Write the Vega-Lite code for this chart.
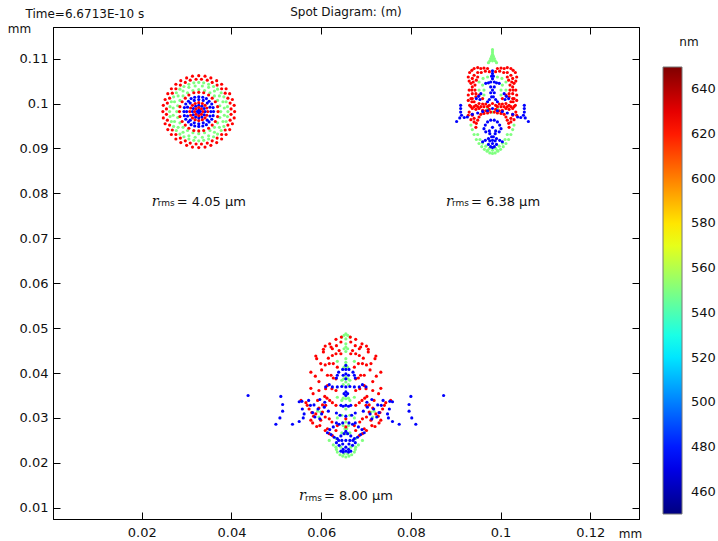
{"$schema":"https://vega.github.io/schema/vega-lite/v6.json","width":586,"height":492,"autosize":"none","padding":{"left":53,"top":27,"right":79,"bottom":22},"background":"white",
"config":{"font":"DejaVu Sans","view":{"stroke":"black","strokeWidth":1},"axis":{"grid":false,"labelFont":"DejaVu Sans","titleFont":"DejaVu Sans","labelFontSize":13,"titleFontSize":12,"titleFontWeight":"normal","labelColor":"#111","titleColor":"#111","domainColor":"black","tickColor":"black","tickSize":-7,"tickWidth":1}},
"title":{"text":"Spot Diagram: (m)","anchor":"middle","fontSize":12,"fontWeight":"normal","font":"DejaVu Sans","color":"#111","offset":-12},
"datasets":{"spots":[
{"x":0.0407,"y":0.0982,"w":625},{"x":0.0406,"y":0.0996,"w":625},{"x":0.0402,"y":0.1009,"w":625},{"x":0.0396,"y":0.1022,"w":625},{"x":0.0388,"y":0.1033,"w":625},{"x":0.0378,"y":0.1043,"w":625},{"x":0.0367,"y":0.1051,"w":625},{"x":0.0354,"y":0.1057,"w":625},{"x":0.0341,"y":0.1061,"w":625},{"x":0.0327,"y":0.1062,"w":625},{"x":0.0313,"y":0.1061,"w":625},{"x":0.03,"y":0.1057,"w":625},{"x":0.0287,"y":0.1051,"w":625},{"x":0.0276,"y":0.1043,"w":625},{"x":0.0266,"y":0.1033,"w":625},{"x":0.0258,"y":0.1022,"w":625},{"x":0.0252,"y":0.1009,"w":625},{"x":0.0248,"y":0.0996,"w":625},{"x":0.0247,"y":0.0982,"w":625},{"x":0.0248,"y":0.0968,"w":625},{"x":0.0252,"y":0.0955,"w":625},{"x":0.0258,"y":0.0942,"w":625},{"x":0.0266,"y":0.0931,"w":625},{"x":0.0276,"y":0.0921,"w":625},{"x":0.0287,"y":0.0913,"w":625},{"x":0.03,"y":0.0907,"w":625},{"x":0.0313,"y":0.0903,"w":625},{"x":0.0327,"y":0.0902,"w":625},{"x":0.0341,"y":0.0903,"w":625},{"x":0.0354,"y":0.0907,"w":625},{"x":0.0367,"y":0.0913,"w":625},{"x":0.0378,"y":0.0921,"w":625},{"x":0.0388,"y":0.0931,"w":625},{"x":0.0396,"y":0.0942,"w":625},{"x":0.0402,"y":0.0955,"w":625},{"x":0.0406,"y":0.0968,"w":625},
{"x":0.0399,"y":0.0988,"w":625},{"x":0.0397,"y":0.1001,"w":625},{"x":0.0392,"y":0.1012,"w":625},{"x":0.0386,"y":0.1023,"w":625},{"x":0.0378,"y":0.1033,"w":625},{"x":0.0368,"y":0.1041,"w":625},{"x":0.0357,"y":0.1047,"w":625},{"x":0.0346,"y":0.1052,"w":625},{"x":0.0333,"y":0.1054,"w":625},{"x":0.0255,"y":0.0988,"w":625},{"x":0.0257,"y":0.1001,"w":625},{"x":0.0262,"y":0.1012,"w":625},{"x":0.0268,"y":0.1023,"w":625},{"x":0.0276,"y":0.1033,"w":625},{"x":0.0286,"y":0.1041,"w":625},{"x":0.0297,"y":0.1047,"w":625},{"x":0.0308,"y":0.1052,"w":625},{"x":0.0321,"y":0.1054,"w":625},{"x":0.0255,"y":0.0976,"w":625},{"x":0.0257,"y":0.0963,"w":625},{"x":0.0262,"y":0.0952,"w":625},{"x":0.0268,"y":0.0941,"w":625},{"x":0.0276,"y":0.0931,"w":625},{"x":0.0286,"y":0.0923,"w":625},{"x":0.0297,"y":0.0917,"w":625},{"x":0.0308,"y":0.0912,"w":625},{"x":0.0321,"y":0.091,"w":625},{"x":0.0399,"y":0.0976,"w":625},{"x":0.0397,"y":0.0963,"w":625},{"x":0.0392,"y":0.0952,"w":625},{"x":0.0386,"y":0.0941,"w":625},{"x":0.0378,"y":0.0931,"w":625},{"x":0.0368,"y":0.0923,"w":625},{"x":0.0357,"y":0.0917,"w":625},{"x":0.0346,"y":0.0912,"w":625},{"x":0.0333,"y":0.091,"w":625},
{"x":0.0392,"y":0.0982,"w":550},{"x":0.0391,"y":0.0993,"w":550},{"x":0.0388,"y":0.1004,"w":550},{"x":0.0383,"y":0.1015,"w":550},{"x":0.0377,"y":0.1024,"w":550},{"x":0.0369,"y":0.1032,"w":550},{"x":0.036,"y":0.1038,"w":550},{"x":0.0349,"y":0.1043,"w":550},{"x":0.0338,"y":0.1046,"w":550},{"x":0.0327,"y":0.1047,"w":550},{"x":0.0316,"y":0.1046,"w":550},{"x":0.0305,"y":0.1043,"w":550},{"x":0.0294,"y":0.1038,"w":550},{"x":0.0285,"y":0.1032,"w":550},{"x":0.0277,"y":0.1024,"w":550},{"x":0.0271,"y":0.1015,"w":550},{"x":0.0266,"y":0.1004,"w":550},{"x":0.0263,"y":0.0993,"w":550},{"x":0.0262,"y":0.0982,"w":550},{"x":0.0263,"y":0.0971,"w":550},{"x":0.0266,"y":0.096,"w":550},{"x":0.0271,"y":0.0949,"w":550},{"x":0.0277,"y":0.094,"w":550},{"x":0.0285,"y":0.0932,"w":550},{"x":0.0294,"y":0.0926,"w":550},{"x":0.0305,"y":0.0921,"w":550},{"x":0.0316,"y":0.0918,"w":550},{"x":0.0327,"y":0.0917,"w":550},{"x":0.0338,"y":0.0918,"w":550},{"x":0.0349,"y":0.0921,"w":550},{"x":0.036,"y":0.0926,"w":550},{"x":0.0369,"y":0.0932,"w":550},{"x":0.0377,"y":0.094,"w":550},{"x":0.0383,"y":0.0949,"w":550},{"x":0.0388,"y":0.096,"w":550},{"x":0.0391,"y":0.0971,"w":550},
{"x":0.0384,"y":0.099,"w":550},{"x":0.0381,"y":0.1004,"w":550},{"x":0.0373,"y":0.1017,"w":550},{"x":0.0362,"y":0.1028,"w":550},{"x":0.0349,"y":0.1036,"w":550},{"x":0.0335,"y":0.1039,"w":550},{"x":0.027,"y":0.099,"w":550},{"x":0.0273,"y":0.1004,"w":550},{"x":0.0281,"y":0.1017,"w":550},{"x":0.0292,"y":0.1028,"w":550},{"x":0.0305,"y":0.1036,"w":550},{"x":0.0319,"y":0.1039,"w":550},{"x":0.027,"y":0.0974,"w":550},{"x":0.0273,"y":0.096,"w":550},{"x":0.0281,"y":0.0947,"w":550},{"x":0.0292,"y":0.0936,"w":550},{"x":0.0305,"y":0.0928,"w":550},{"x":0.0319,"y":0.0925,"w":550},{"x":0.0384,"y":0.0974,"w":550},{"x":0.0381,"y":0.096,"w":550},{"x":0.0373,"y":0.0947,"w":550},{"x":0.0362,"y":0.0936,"w":550},{"x":0.0349,"y":0.0928,"w":550},{"x":0.0335,"y":0.0925,"w":550},
{"x":0.0376,"y":0.0982,"w":550},{"x":0.0374,"y":0.0995,"w":550},{"x":0.0369,"y":0.1007,"w":550},{"x":0.0362,"y":0.1017,"w":550},{"x":0.0352,"y":0.1024,"w":550},{"x":0.034,"y":0.1029,"w":550},{"x":0.0327,"y":0.1031,"w":550},{"x":0.0314,"y":0.1029,"w":550},{"x":0.0302,"y":0.1024,"w":550},{"x":0.0292,"y":0.1017,"w":550},{"x":0.0285,"y":0.1007,"w":550},{"x":0.028,"y":0.0995,"w":550},{"x":0.0278,"y":0.0982,"w":550},{"x":0.028,"y":0.0969,"w":550},{"x":0.0285,"y":0.0957,"w":550},{"x":0.0292,"y":0.0947,"w":550},{"x":0.0302,"y":0.094,"w":550},{"x":0.0314,"y":0.0935,"w":550},{"x":0.0327,"y":0.0933,"w":550},{"x":0.034,"y":0.0935,"w":550},{"x":0.0352,"y":0.094,"w":550},{"x":0.0362,"y":0.0947,"w":550},{"x":0.0369,"y":0.0957,"w":550},{"x":0.0374,"y":0.0969,"w":550},
{"x":0.037,"y":0.0982,"w":625},{"x":0.0369,"y":0.0993,"w":625},{"x":0.0364,"y":0.1004,"w":625},{"x":0.0357,"y":0.1012,"w":625},{"x":0.0349,"y":0.1019,"w":625},{"x":0.0338,"y":0.1024,"w":625},{"x":0.0327,"y":0.1025,"w":625},{"x":0.0316,"y":0.1024,"w":625},{"x":0.0305,"y":0.1019,"w":625},{"x":0.0297,"y":0.1012,"w":625},{"x":0.029,"y":0.1004,"w":625},{"x":0.0285,"y":0.0993,"w":625},{"x":0.0284,"y":0.0982,"w":625},{"x":0.0285,"y":0.0971,"w":625},{"x":0.029,"y":0.096,"w":625},{"x":0.0297,"y":0.0952,"w":625},{"x":0.0305,"y":0.0945,"w":625},{"x":0.0316,"y":0.094,"w":625},{"x":0.0327,"y":0.0939,"w":625},{"x":0.0338,"y":0.094,"w":625},{"x":0.0349,"y":0.0945,"w":625},{"x":0.0357,"y":0.0952,"w":625},{"x":0.0364,"y":0.096,"w":625},{"x":0.0369,"y":0.0971,"w":625},
{"x":0.036,"y":0.0982,"w":475},{"x":0.0359,"y":0.0991,"w":475},{"x":0.0356,"y":0.0999,"w":475},{"x":0.035,"y":0.1005,"w":475},{"x":0.0344,"y":0.1011,"w":475},{"x":0.0336,"y":0.1014,"w":475},{"x":0.0327,"y":0.1015,"w":475},{"x":0.0318,"y":0.1014,"w":475},{"x":0.031,"y":0.1011,"w":475},{"x":0.0304,"y":0.1005,"w":475},{"x":0.0298,"y":0.0999,"w":475},{"x":0.0295,"y":0.0991,"w":475},{"x":0.0294,"y":0.0982,"w":475},{"x":0.0295,"y":0.0973,"w":475},{"x":0.0298,"y":0.0965,"w":475},{"x":0.0304,"y":0.0959,"w":475},{"x":0.031,"y":0.0953,"w":475},{"x":0.0318,"y":0.095,"w":475},{"x":0.0327,"y":0.0949,"w":475},{"x":0.0336,"y":0.095,"w":475},{"x":0.0344,"y":0.0953,"w":475},{"x":0.035,"y":0.0959,"w":475},{"x":0.0356,"y":0.0965,"w":475},{"x":0.0359,"y":0.0973,"w":475},
{"x":0.0354,"y":0.0982,"w":475},{"x":0.0352,"y":0.0992,"w":475},{"x":0.0346,"y":0.1001,"w":475},{"x":0.0337,"y":0.1007,"w":475},{"x":0.0327,"y":0.1009,"w":475},{"x":0.0317,"y":0.1007,"w":475},{"x":0.0308,"y":0.1001,"w":475},{"x":0.0302,"y":0.0992,"w":475},{"x":0.03,"y":0.0982,"w":475},{"x":0.0302,"y":0.0972,"w":475},{"x":0.0308,"y":0.0963,"w":475},{"x":0.0317,"y":0.0957,"w":475},{"x":0.0327,"y":0.0955,"w":475},{"x":0.0337,"y":0.0957,"w":475},{"x":0.0346,"y":0.0963,"w":475},{"x":0.0352,"y":0.0972,"w":475},
{"x":0.0347,"y":0.0982,"w":625},{"x":0.0345,"y":0.099,"w":625},{"x":0.0341,"y":0.0996,"w":625},{"x":0.0335,"y":0.1,"w":625},{"x":0.0327,"y":0.1002,"w":625},{"x":0.0319,"y":0.1,"w":625},{"x":0.0313,"y":0.0996,"w":625},{"x":0.0309,"y":0.099,"w":625},{"x":0.0307,"y":0.0982,"w":625},{"x":0.0309,"y":0.0974,"w":625},{"x":0.0313,"y":0.0968,"w":625},{"x":0.0319,"y":0.0964,"w":625},{"x":0.0327,"y":0.0962,"w":625},{"x":0.0335,"y":0.0964,"w":625},{"x":0.0341,"y":0.0968,"w":625},{"x":0.0345,"y":0.0974,"w":625},
{"x":0.0341,"y":0.0982,"w":475},{"x":0.0339,"y":0.0989,"w":475},{"x":0.0334,"y":0.0994,"w":475},{"x":0.0327,"y":0.0996,"w":475},{"x":0.032,"y":0.0994,"w":475},{"x":0.0315,"y":0.0989,"w":475},{"x":0.0313,"y":0.0982,"w":475},{"x":0.0315,"y":0.0975,"w":475},{"x":0.032,"y":0.097,"w":475},{"x":0.0327,"y":0.0968,"w":475},{"x":0.0334,"y":0.097,"w":475},{"x":0.0339,"y":0.0975,"w":475},
{"x":0.0336,"y":0.0982,"w":625},{"x":0.0333,"y":0.0988,"w":625},{"x":0.0327,"y":0.0991,"w":625},{"x":0.0321,"y":0.0988,"w":625},{"x":0.0318,"y":0.0982,"w":625},{"x":0.0321,"y":0.0976,"w":625},{"x":0.0327,"y":0.0973,"w":625},{"x":0.0333,"y":0.0976,"w":625},
{"x":0.033,"y":0.0982,"w":475},{"x":0.0327,"y":0.0985,"w":475},{"x":0.0324,"y":0.0982,"w":475},{"x":0.0327,"y":0.0979,"w":475},

{"x":0.0982,"y":0.112,"w":550},{"x":0.0982,"y":0.1115,"w":550},{"x":0.0982,"y":0.111,"w":550},{"x":0.098,"y":0.1105,"w":550},{"x":0.0984,"y":0.1105,"w":550},{"x":0.0978,"y":0.11,"w":550},{"x":0.0986,"y":0.11,"w":550},{"x":0.0976,"y":0.1095,"w":550},{"x":0.0988,"y":0.1095,"w":550},{"x":0.0973,"y":0.1091,"w":550},{"x":0.0991,"y":0.1091,"w":550},{"x":0.0982,"y":0.1105,"w":550},{"x":0.0982,"y":0.11,"w":550},{"x":0.0982,"y":0.1095,"w":550},
{"x":0.0982,"y":0.0889,"w":550},{"x":0.0976,"y":0.089,"w":550},{"x":0.0988,"y":0.089,"w":550},{"x":0.097,"y":0.0894,"w":550},{"x":0.0994,"y":0.0894,"w":550},{"x":0.0964,"y":0.0898,"w":550},{"x":0.1,"y":0.0898,"w":550},{"x":0.0958,"y":0.0904,"w":550},{"x":0.1006,"y":0.0904,"w":550},{"x":0.0952,"y":0.0911,"w":550},{"x":0.1012,"y":0.0911,"w":550},{"x":0.0946,"y":0.092,"w":550},{"x":0.1018,"y":0.092,"w":550},{"x":0.0941,"y":0.0931,"w":550},{"x":0.1023,"y":0.0931,"w":550},{"x":0.0937,"y":0.0942,"w":550},{"x":0.1027,"y":0.0942,"w":550},{"x":0.0934,"y":0.0952,"w":550},{"x":0.103,"y":0.0952,"w":550},
{"x":0.0982,"y":0.0896,"w":550},{"x":0.0975,"y":0.09,"w":550},{"x":0.0989,"y":0.09,"w":550},{"x":0.0967,"y":0.0905,"w":550},{"x":0.0997,"y":0.0905,"w":550},{"x":0.096,"y":0.0912,"w":550},{"x":0.1004,"y":0.0912,"w":550},{"x":0.0954,"y":0.092,"w":550},{"x":0.101,"y":0.092,"w":550},{"x":0.0949,"y":0.0931,"w":550},{"x":0.1015,"y":0.0931,"w":550},{"x":0.0971,"y":0.0896,"w":550},{"x":0.0993,"y":0.0896,"w":550},
{"x":0.096,"y":0.1041,"w":550},{"x":0.1004,"y":0.1041,"w":550},{"x":0.0952,"y":0.1048,"w":550},{"x":0.1012,"y":0.1048,"w":550},{"x":0.0963,"y":0.1019,"w":550},{"x":0.1001,"y":0.1019,"w":550},{"x":0.0971,"y":0.0989,"w":550},{"x":0.0993,"y":0.0989,"w":550},{"x":0.0982,"y":0.0981,"w":550},{"x":0.0971,"y":0.1059,"w":550},{"x":0.0993,"y":0.1059,"w":550},{"x":0.0961,"y":0.1056,"w":550},{"x":0.1003,"y":0.1056,"w":550},{"x":0.0963,"y":0.103,"w":550},{"x":0.1001,"y":0.103,"w":550},{"x":0.0952,"y":0.103,"w":550},{"x":0.1012,"y":0.103,"w":550},
{"x":0.0971,"y":0.1078,"w":625},{"x":0.0993,"y":0.1078,"w":625},{"x":0.0963,"y":0.1079,"w":625},{"x":0.1001,"y":0.1079,"w":625},{"x":0.0956,"y":0.1078,"w":625},{"x":0.1008,"y":0.1078,"w":625},{"x":0.0949,"y":0.108,"w":625},{"x":0.1015,"y":0.108,"w":625},{"x":0.0941,"y":0.1078,"w":625},{"x":0.1023,"y":0.1078,"w":625},{"x":0.0936,"y":0.1074,"w":625},{"x":0.1028,"y":0.1074,"w":625},{"x":0.0931,"y":0.1069,"w":625},{"x":0.1033,"y":0.1069,"w":625},{"x":0.0928,"y":0.1059,"w":625},{"x":0.1036,"y":0.1059,"w":625},{"x":0.093,"y":0.105,"w":625},{"x":0.1034,"y":0.105,"w":625},{"x":0.0934,"y":0.1045,"w":625},{"x":0.103,"y":0.1045,"w":625},{"x":0.0937,"y":0.1037,"w":625},{"x":0.1027,"y":0.1037,"w":625},{"x":0.0943,"y":0.103,"w":625},{"x":0.1021,"y":0.103,"w":625},
{"x":0.0975,"y":0.1071,"w":625},{"x":0.0989,"y":0.1071,"w":625},{"x":0.0966,"y":0.1072,"w":625},{"x":0.0998,"y":0.1072,"w":625},{"x":0.0957,"y":0.1069,"w":625},{"x":0.1007,"y":0.1069,"w":625},{"x":0.0949,"y":0.1069,"w":625},{"x":0.1015,"y":0.1069,"w":625},{"x":0.0941,"y":0.1063,"w":625},{"x":0.1023,"y":0.1063,"w":625},{"x":0.0937,"y":0.1056,"w":625},{"x":0.1027,"y":0.1056,"w":625},{"x":0.0939,"y":0.1048,"w":625},{"x":0.1025,"y":0.1048,"w":625},
{"x":0.093,"y":0.103,"w":625},{"x":0.1034,"y":0.103,"w":625},{"x":0.0928,"y":0.1019,"w":625},{"x":0.1036,"y":0.1019,"w":625},{"x":0.0928,"y":0.1007,"w":625},{"x":0.1036,"y":0.1007,"w":625},{"x":0.0931,"y":0.0996,"w":625},{"x":0.1033,"y":0.0996,"w":625},{"x":0.0937,"y":0.0989,"w":625},{"x":0.1027,"y":0.0989,"w":625},{"x":0.0945,"y":0.0996,"w":625},{"x":0.1019,"y":0.0996,"w":625},{"x":0.0952,"y":0.1,"w":625},{"x":0.1012,"y":0.1,"w":625},{"x":0.096,"y":0.0999,"w":625},{"x":0.1004,"y":0.0999,"w":625},{"x":0.0967,"y":0.0999,"w":625},{"x":0.0997,"y":0.0999,"w":625},{"x":0.0975,"y":0.0996,"w":625},{"x":0.0989,"y":0.0996,"w":625},{"x":0.0982,"y":0.1,"w":625},
{"x":0.0971,"y":0.0993,"w":625},{"x":0.0993,"y":0.0993,"w":625},{"x":0.0963,"y":0.0993,"w":625},{"x":0.1001,"y":0.0993,"w":625},{"x":0.0956,"y":0.0993,"w":625},{"x":0.1008,"y":0.0993,"w":625},{"x":0.0949,"y":0.0993,"w":625},{"x":0.1015,"y":0.0993,"w":625},{"x":0.0941,"y":0.0993,"w":625},{"x":0.1023,"y":0.0993,"w":625},{"x":0.0934,"y":0.0993,"w":625},{"x":0.103,"y":0.0993,"w":625},{"x":0.0936,"y":0.103,"w":625},{"x":0.1028,"y":0.103,"w":625},{"x":0.0936,"y":0.1004,"w":625},{"x":0.1028,"y":0.1004,"w":625},{"x":0.0943,"y":0.1041,"w":625},{"x":0.1021,"y":0.1041,"w":625},{"x":0.0946,"y":0.1052,"w":625},{"x":0.1018,"y":0.1052,"w":625},{"x":0.0949,"y":0.1059,"w":625},{"x":0.1015,"y":0.1059,"w":625},{"x":0.0934,"y":0.1011,"w":625},{"x":0.103,"y":0.1011,"w":625},{"x":0.0937,"y":0.1022,"w":625},{"x":0.1027,"y":0.1022,"w":625},{"x":0.0945,"y":0.1022,"w":625},{"x":0.1019,"y":0.1022,"w":625},{"x":0.0937,"y":0.0974,"w":625},{"x":0.1027,"y":0.0974,"w":625},{"x":0.0941,"y":0.0967,"w":625},{"x":0.1023,"y":0.0967,"w":625},
{"x":0.0975,"y":0.0987,"w":625},{"x":0.0989,"y":0.0987,"w":625},{"x":0.0967,"y":0.0984,"w":625},{"x":0.0997,"y":0.0984,"w":625},{"x":0.096,"y":0.0985,"w":625},{"x":0.1004,"y":0.0985,"w":625},{"x":0.0952,"y":0.0989,"w":625},{"x":0.1012,"y":0.0989,"w":625},{"x":0.0945,"y":0.0987,"w":625},{"x":0.1019,"y":0.0987,"w":625},{"x":0.093,"y":0.0981,"w":625},{"x":0.1034,"y":0.0981,"w":625},{"x":0.0928,"y":0.0974,"w":625},{"x":0.1036,"y":0.0974,"w":625},{"x":0.0934,"y":0.0964,"w":625},{"x":0.103,"y":0.0964,"w":625},{"x":0.0941,"y":0.0959,"w":625},{"x":0.1023,"y":0.0959,"w":625},{"x":0.0949,"y":0.0963,"w":625},{"x":0.1015,"y":0.0963,"w":625},{"x":0.0952,"y":0.097,"w":625},{"x":0.1012,"y":0.097,"w":625},{"x":0.0956,"y":0.0976,"w":625},{"x":0.1008,"y":0.0976,"w":625},{"x":0.0963,"y":0.0978,"w":625},{"x":0.1001,"y":0.0978,"w":625},{"x":0.0971,"y":0.0979,"w":625},{"x":0.0993,"y":0.0979,"w":625},{"x":0.0978,"y":0.0981,"w":625},{"x":0.0986,"y":0.0981,"w":625},
{"x":0.0945,"y":0.1015,"w":625},{"x":0.1019,"y":0.1015,"w":625},{"x":0.0952,"y":0.1019,"w":625},{"x":0.1012,"y":0.1019,"w":625},{"x":0.096,"y":0.1011,"w":625},{"x":0.1004,"y":0.1011,"w":625},{"x":0.0941,"y":0.1004,"w":625},{"x":0.1023,"y":0.1004,"w":625},{"x":0.0937,"y":0.1011,"w":625},{"x":0.1027,"y":0.1011,"w":625},{"x":0.0946,"y":0.0956,"w":625},{"x":0.1018,"y":0.0956,"w":625},{"x":0.0945,"y":0.0947,"w":625},{"x":0.1019,"y":0.0947,"w":625},{"x":0.0937,"y":0.0976,"w":625},{"x":0.1027,"y":0.0976,"w":625},
{"x":0.0982,"y":0.1073,"w":475},{"x":0.0982,"y":0.1067,"w":475},{"x":0.098,"y":0.1061,"w":475},{"x":0.0984,"y":0.1061,"w":475},{"x":0.0982,"y":0.1055,"w":475},{"x":0.0978,"y":0.1048,"w":475},{"x":0.0986,"y":0.1048,"w":475},{"x":0.0973,"y":0.1046,"w":475},{"x":0.0991,"y":0.1046,"w":475},{"x":0.0967,"y":0.1045,"w":475},{"x":0.0997,"y":0.1045,"w":475},{"x":0.0978,"y":0.1037,"w":475},{"x":0.0986,"y":0.1037,"w":475},{"x":0.0982,"y":0.103,"w":475},{"x":0.0978,"y":0.1024,"w":475},{"x":0.0986,"y":0.1024,"w":475},{"x":0.098,"y":0.1015,"w":475},{"x":0.0984,"y":0.1015,"w":475},{"x":0.0975,"y":0.1009,"w":475},{"x":0.0989,"y":0.1009,"w":475},{"x":0.0971,"y":0.1004,"w":475},{"x":0.0993,"y":0.1004,"w":475},{"x":0.0982,"y":0.0989,"w":475},
{"x":0.0956,"y":0.1022,"w":475},{"x":0.1008,"y":0.1022,"w":475},{"x":0.0951,"y":0.1016,"w":475},{"x":0.1013,"y":0.1016,"w":475},{"x":0.0946,"y":0.1011,"w":475},{"x":0.1018,"y":0.1011,"w":475},{"x":0.0954,"y":0.1009,"w":475},{"x":0.101,"y":0.1009,"w":475},
{"x":0.0911,"y":0.0996,"w":475},{"x":0.1053,"y":0.0996,"w":475},{"x":0.0911,"y":0.0989,"w":475},{"x":0.1053,"y":0.0989,"w":475},{"x":0.0911,"y":0.0981,"w":475},{"x":0.1053,"y":0.0981,"w":475},{"x":0.0913,"y":0.0974,"w":475},{"x":0.1051,"y":0.0974,"w":475},{"x":0.0909,"y":0.0968,"w":475},{"x":0.1055,"y":0.0968,"w":475},{"x":0.0902,"y":0.096,"w":475},{"x":0.1062,"y":0.096,"w":475},{"x":0.0919,"y":0.0969,"w":475},{"x":0.1045,"y":0.0969,"w":475},{"x":0.0926,"y":0.097,"w":475},{"x":0.1038,"y":0.097,"w":475},{"x":0.0937,"y":0.0976,"w":475},{"x":0.1027,"y":0.0976,"w":475},{"x":0.0949,"y":0.0979,"w":475},{"x":0.1015,"y":0.0979,"w":475},{"x":0.096,"y":0.0982,"w":475},{"x":0.1004,"y":0.0982,"w":475},{"x":0.0971,"y":0.0984,"w":475},{"x":0.0993,"y":0.0984,"w":475},
{"x":0.0978,"y":0.0963,"w":475},{"x":0.0986,"y":0.0963,"w":475},{"x":0.0971,"y":0.0959,"w":475},{"x":0.0993,"y":0.0959,"w":475},{"x":0.0966,"y":0.0952,"w":475},{"x":0.0998,"y":0.0952,"w":475},{"x":0.0963,"y":0.0944,"w":475},{"x":0.1001,"y":0.0944,"w":475},{"x":0.0967,"y":0.0937,"w":475},{"x":0.0997,"y":0.0937,"w":475},{"x":0.0975,"y":0.0939,"w":475},{"x":0.0989,"y":0.0939,"w":475},{"x":0.0982,"y":0.0947,"w":475},{"x":0.0976,"y":0.0933,"w":475},{"x":0.0988,"y":0.0933,"w":475},{"x":0.098,"y":0.0926,"w":475},{"x":0.0984,"y":0.0926,"w":475},{"x":0.0973,"y":0.0922,"w":475},{"x":0.0991,"y":0.0922,"w":475},{"x":0.0966,"y":0.0918,"w":475},{"x":0.0998,"y":0.0918,"w":475},{"x":0.096,"y":0.0915,"w":475},{"x":0.1004,"y":0.0915,"w":475},{"x":0.0976,"y":0.0917,"w":475},{"x":0.0988,"y":0.0917,"w":475},{"x":0.0982,"y":0.0911,"w":475},{"x":0.0982,"y":0.0902,"w":475},{"x":0.0978,"y":0.0904,"w":475},{"x":0.0986,"y":0.0904,"w":475},{"x":0.0973,"y":0.0909,"w":475},{"x":0.0991,"y":0.0909,"w":475},{"x":0.0982,"y":0.0918,"w":475},

{"x":0.0655,"y":0.0487,"w":550},{"x":0.0651,"y":0.0484,"w":550},{"x":0.0659,"y":0.0484,"w":550},{"x":0.0646,"y":0.048,"w":550},{"x":0.0664,"y":0.048,"w":550},{"x":0.0655,"y":0.0476,"w":550},{"x":0.0655,"y":0.0465,"w":550},{"x":0.0655,"y":0.0458,"w":550},{"x":0.0651,"y":0.0454,"w":550},{"x":0.0659,"y":0.0454,"w":550},{"x":0.0655,"y":0.0448,"w":550},{"x":0.0655,"y":0.0432,"w":550},{"x":0.0655,"y":0.0424,"w":550},{"x":0.0636,"y":0.0426,"w":550},{"x":0.0674,"y":0.0426,"w":550},{"x":0.0655,"y":0.0418,"w":550},{"x":0.0651,"y":0.0413,"w":550},{"x":0.0659,"y":0.0413,"w":550},{"x":0.0655,"y":0.0391,"w":550},{"x":0.065,"y":0.0387,"w":550},{"x":0.066,"y":0.0387,"w":550},{"x":0.0646,"y":0.0384,"w":550},{"x":0.0664,"y":0.0384,"w":550},{"x":0.0655,"y":0.038,"w":550},{"x":0.0649,"y":0.0374,"w":550},{"x":0.0661,"y":0.0374,"w":550},{"x":0.0636,"y":0.0346,"w":550},{"x":0.0674,"y":0.0346,"w":550},{"x":0.0646,"y":0.0339,"w":550},{"x":0.0664,"y":0.0339,"w":550},{"x":0.0649,"y":0.0344,"w":550},{"x":0.0661,"y":0.0344,"w":550},{"x":0.0655,"y":0.0343,"w":550},{"x":0.0655,"y":0.032,"w":550},{"x":0.0646,"y":0.0306,"w":550},{"x":0.0664,"y":0.0306,"w":550},{"x":0.0636,"y":0.03,"w":550},{"x":0.0674,"y":0.03,"w":550},{"x":0.0655,"y":0.0291,"w":550},{"x":0.0649,"y":0.0283,"w":550},{"x":0.0661,"y":0.0283,"w":550},{"x":0.0653,"y":0.0276,"w":550},{"x":0.0657,"y":0.0276,"w":550},{"x":0.0655,"y":0.0265,"w":550},{"x":0.0646,"y":0.0267,"w":550},{"x":0.0664,"y":0.0267,"w":550},{"x":0.0633,"y":0.0254,"w":550},{"x":0.0677,"y":0.0254,"w":550},{"x":0.0618,"y":0.025,"w":550},{"x":0.0692,"y":0.025,"w":550},{"x":0.0627,"y":0.024,"w":550},{"x":0.0683,"y":0.024,"w":550},{"x":0.0633,"y":0.0235,"w":550},{"x":0.0677,"y":0.0235,"w":550},{"x":0.0634,"y":0.023,"w":550},{"x":0.0676,"y":0.023,"w":550},{"x":0.0636,"y":0.0224,"w":550},{"x":0.0674,"y":0.0224,"w":550},{"x":0.0642,"y":0.0218,"w":550},{"x":0.0668,"y":0.0218,"w":550},{"x":0.0648,"y":0.0215,"w":550},{"x":0.0662,"y":0.0215,"w":550},{"x":0.0655,"y":0.0213,"w":550},{"x":0.0644,"y":0.0235,"w":550},{"x":0.0666,"y":0.0235,"w":550},{"x":0.0651,"y":0.022,"w":550},{"x":0.0659,"y":0.022,"w":550},{"x":0.0599,"y":0.0313,"w":550},{"x":0.0711,"y":0.0313,"w":550},{"x":0.0592,"y":0.0315,"w":550},{"x":0.0718,"y":0.0315,"w":550},{"x":0.0595,"y":0.0302,"w":550},{"x":0.0715,"y":0.0302,"w":550},
{"x":0.0645,"y":0.048,"w":625},{"x":0.0665,"y":0.048,"w":625},{"x":0.0633,"y":0.0475,"w":625},{"x":0.0677,"y":0.0475,"w":625},{"x":0.0619,"y":0.0465,"w":625},{"x":0.0691,"y":0.0465,"w":625},{"x":0.0609,"y":0.046,"w":625},{"x":0.0701,"y":0.046,"w":625},{"x":0.0605,"y":0.0453,"w":625},{"x":0.0705,"y":0.0453,"w":625},{"x":0.0605,"y":0.0447,"w":625},{"x":0.0705,"y":0.0447,"w":625},{"x":0.0644,"y":0.0469,"w":625},{"x":0.0666,"y":0.0469,"w":625},{"x":0.0634,"y":0.0461,"w":625},{"x":0.0676,"y":0.0461,"w":625},{"x":0.0622,"y":0.0458,"w":625},{"x":0.0688,"y":0.0458,"w":625},{"x":0.064,"y":0.045,"w":625},{"x":0.067,"y":0.045,"w":625},{"x":0.0625,"y":0.0454,"w":625},{"x":0.0685,"y":0.0454,"w":625},{"x":0.0644,"y":0.0443,"w":625},{"x":0.0666,"y":0.0443,"w":625},{"x":0.0633,"y":0.0443,"w":625},{"x":0.0677,"y":0.0443,"w":625},{"x":0.0625,"y":0.0439,"w":625},{"x":0.0685,"y":0.0439,"w":625},{"x":0.0616,"y":0.0433,"w":625},{"x":0.0694,"y":0.0433,"w":625},{"x":0.0588,"y":0.0438,"w":625},{"x":0.0722,"y":0.0438,"w":625},{"x":0.059,"y":0.0432,"w":625},{"x":0.072,"y":0.0432,"w":625},{"x":0.0599,"y":0.0421,"w":625},{"x":0.0711,"y":0.0421,"w":625},{"x":0.0609,"y":0.0418,"w":625},{"x":0.0701,"y":0.0418,"w":625},{"x":0.0618,"y":0.0421,"w":625},{"x":0.0692,"y":0.0421,"w":625},{"x":0.0627,"y":0.0421,"w":625},{"x":0.0683,"y":0.0421,"w":625},{"x":0.0636,"y":0.0413,"w":625},{"x":0.0674,"y":0.0413,"w":625},{"x":0.0577,"y":0.0402,"w":625},{"x":0.0733,"y":0.0402,"w":625},{"x":0.0587,"y":0.0393,"w":625},{"x":0.0723,"y":0.0393,"w":625},{"x":0.0595,"y":0.0381,"w":625},{"x":0.0715,"y":0.0381,"w":625},{"x":0.0601,"y":0.0407,"w":625},{"x":0.0709,"y":0.0407,"w":625},{"x":0.0614,"y":0.0395,"w":625},{"x":0.0696,"y":0.0395,"w":625},{"x":0.0622,"y":0.0395,"w":625},{"x":0.0688,"y":0.0395,"w":625},{"x":0.0627,"y":0.0389,"w":625},{"x":0.0683,"y":0.0389,"w":625},{"x":0.0633,"y":0.0387,"w":625},{"x":0.0677,"y":0.0387,"w":625},{"x":0.0577,"y":0.0366,"w":625},{"x":0.0733,"y":0.0366,"w":625},{"x":0.0582,"y":0.0354,"w":625},{"x":0.0728,"y":0.0354,"w":625},{"x":0.0595,"y":0.0361,"w":625},{"x":0.0715,"y":0.0361,"w":625},{"x":0.061,"y":0.0365,"w":625},{"x":0.07,"y":0.0365,"w":625},{"x":0.0614,"y":0.0372,"w":625},{"x":0.0696,"y":0.0372,"w":625},{"x":0.0624,"y":0.0365,"w":625},{"x":0.0686,"y":0.0365,"w":625},{"x":0.0633,"y":0.0361,"w":625},{"x":0.0677,"y":0.0361,"w":625},
{"x":0.0608,"y":0.0348,"w":625},{"x":0.0702,"y":0.0348,"w":625},{"x":0.0613,"y":0.0344,"w":625},{"x":0.0697,"y":0.0344,"w":625},{"x":0.0619,"y":0.0339,"w":625},{"x":0.0691,"y":0.0339,"w":625},{"x":0.0625,"y":0.0334,"w":625},{"x":0.0685,"y":0.0334,"w":625},{"x":0.0633,"y":0.0328,"w":625},{"x":0.0677,"y":0.0328,"w":625},
{"x":0.0555,"y":0.0339,"w":625},{"x":0.0755,"y":0.0339,"w":625},{"x":0.0566,"y":0.0334,"w":625},{"x":0.0744,"y":0.0334,"w":625},{"x":0.0569,"y":0.0328,"w":625},{"x":0.0741,"y":0.0328,"w":625},{"x":0.0573,"y":0.032,"w":625},{"x":0.0737,"y":0.032,"w":625},{"x":0.0579,"y":0.0312,"w":625},{"x":0.0731,"y":0.0312,"w":625},{"x":0.0583,"y":0.0304,"w":625},{"x":0.0727,"y":0.0304,"w":625},{"x":0.0577,"y":0.0295,"w":625},{"x":0.0733,"y":0.0295,"w":625},{"x":0.0581,"y":0.0289,"w":625},{"x":0.0729,"y":0.0289,"w":625},{"x":0.059,"y":0.0281,"w":625},{"x":0.072,"y":0.0281,"w":625},{"x":0.0597,"y":0.0283,"w":625},{"x":0.0713,"y":0.0283,"w":625},{"x":0.0599,"y":0.0295,"w":625},{"x":0.0711,"y":0.0295,"w":625},{"x":0.0609,"y":0.0302,"w":625},{"x":0.0701,"y":0.0302,"w":625},{"x":0.0618,"y":0.0298,"w":625},{"x":0.0692,"y":0.0298,"w":625},{"x":0.0624,"y":0.0291,"w":625},{"x":0.0686,"y":0.0291,"w":625},{"x":0.0609,"y":0.0272,"w":625},{"x":0.0701,"y":0.0272,"w":625},{"x":0.0614,"y":0.0276,"w":625},{"x":0.0696,"y":0.0276,"w":625},{"x":0.0618,"y":0.0265,"w":625},{"x":0.0692,"y":0.0265,"w":625},{"x":0.0625,"y":0.0261,"w":625},{"x":0.0685,"y":0.0261,"w":625},{"x":0.0588,"y":0.0309,"w":625},{"x":0.0722,"y":0.0309,"w":625},{"x":0.0595,"y":0.0322,"w":625},{"x":0.0715,"y":0.0322,"w":625},{"x":0.0603,"y":0.0329,"w":625},{"x":0.0707,"y":0.0329,"w":625},{"x":0.061,"y":0.0328,"w":625},{"x":0.07,"y":0.0328,"w":625},{"x":0.0592,"y":0.0339,"w":625},{"x":0.0718,"y":0.0339,"w":625},{"x":0.0636,"y":0.0283,"w":625},{"x":0.0674,"y":0.0283,"w":625},{"x":0.0633,"y":0.0272,"w":625},{"x":0.0677,"y":0.0272,"w":625},{"x":0.0603,"y":0.0313,"w":625},{"x":0.0707,"y":0.0313,"w":625},{"x":0.0655,"y":0.028,"w":625},{"x":0.0655,"y":0.0298,"w":625},
{"x":0.0437,"y":0.035,"w":475},{"x":0.0873,"y":0.035,"w":475},{"x":0.051,"y":0.0348,"w":475},{"x":0.08,"y":0.0348,"w":475},{"x":0.0514,"y":0.033,"w":475},{"x":0.0796,"y":0.033,"w":475},{"x":0.0514,"y":0.0315,"w":475},{"x":0.0796,"y":0.0315,"w":475},{"x":0.0508,"y":0.03,"w":475},{"x":0.0802,"y":0.03,"w":475},{"x":0.0499,"y":0.0286,"w":475},{"x":0.0811,"y":0.0286,"w":475},{"x":0.0536,"y":0.0286,"w":475},{"x":0.0774,"y":0.0286,"w":475},{"x":0.0551,"y":0.0292,"w":475},{"x":0.0759,"y":0.0292,"w":475},{"x":0.056,"y":0.03,"w":475},{"x":0.075,"y":0.03,"w":475},{"x":0.0562,"y":0.0309,"w":475},{"x":0.0748,"y":0.0309,"w":475},{"x":0.0558,"y":0.032,"w":475},{"x":0.0752,"y":0.032,"w":475},{"x":0.0551,"y":0.0336,"w":475},{"x":0.0759,"y":0.0336,"w":475},{"x":0.0557,"y":0.0337,"w":475},{"x":0.0753,"y":0.0337,"w":475},{"x":0.0572,"y":0.0339,"w":475},{"x":0.0738,"y":0.0339,"w":475},{"x":0.0576,"y":0.0328,"w":475},{"x":0.0734,"y":0.0328,"w":475},{"x":0.0581,"y":0.0312,"w":475},{"x":0.0729,"y":0.0312,"w":475},{"x":0.0586,"y":0.0302,"w":475},{"x":0.0724,"y":0.0302,"w":475},{"x":0.0597,"y":0.0298,"w":475},{"x":0.0713,"y":0.0298,"w":475},{"x":0.0601,"y":0.0309,"w":475},{"x":0.0709,"y":0.0309,"w":475},{"x":0.0593,"y":0.032,"w":475},{"x":0.0717,"y":0.032,"w":475},{"x":0.0584,"y":0.0329,"w":475},{"x":0.0726,"y":0.0329,"w":475},{"x":0.0597,"y":0.0341,"w":475},{"x":0.0713,"y":0.0341,"w":475},{"x":0.0608,"y":0.0335,"w":475},{"x":0.0702,"y":0.0335,"w":475},{"x":0.0607,"y":0.0324,"w":475},{"x":0.0703,"y":0.0324,"w":475},{"x":0.0616,"y":0.0315,"w":475},{"x":0.0694,"y":0.0315,"w":475},{"x":0.0634,"y":0.0311,"w":475},{"x":0.0676,"y":0.0311,"w":475},{"x":0.0642,"y":0.0306,"w":475},{"x":0.0668,"y":0.0306,"w":475},{"x":0.0655,"y":0.0304,"w":475},
{"x":0.0655,"y":0.0417,"w":475},{"x":0.0655,"y":0.0408,"w":475},{"x":0.0648,"y":0.0408,"w":475},{"x":0.0662,"y":0.0408,"w":475},{"x":0.0639,"y":0.0402,"w":475},{"x":0.0671,"y":0.0402,"w":475},{"x":0.0636,"y":0.0395,"w":475},{"x":0.0674,"y":0.0395,"w":475},{"x":0.0634,"y":0.0389,"w":475},{"x":0.0676,"y":0.0389,"w":475},{"x":0.0655,"y":0.0398,"w":475},{"x":0.0649,"y":0.0395,"w":475},{"x":0.0661,"y":0.0395,"w":475},{"x":0.0655,"y":0.0387,"w":475},{"x":0.061,"y":0.0369,"w":475},{"x":0.07,"y":0.0369,"w":475},{"x":0.0618,"y":0.0374,"w":475},{"x":0.0692,"y":0.0374,"w":475},{"x":0.0625,"y":0.0369,"w":475},{"x":0.0685,"y":0.0369,"w":475},{"x":0.0636,"y":0.0369,"w":475},{"x":0.0674,"y":0.0369,"w":475},{"x":0.0646,"y":0.037,"w":475},{"x":0.0664,"y":0.037,"w":475},{"x":0.0655,"y":0.0369,"w":475},{"x":0.0655,"y":0.0358,"w":475},{"x":0.0651,"y":0.0354,"w":475},{"x":0.0659,"y":0.0354,"w":475},{"x":0.0655,"y":0.035,"w":475},{"x":0.0655,"y":0.0328,"w":475},{"x":0.0649,"y":0.0326,"w":475},{"x":0.0661,"y":0.0326,"w":475},{"x":0.0644,"y":0.0328,"w":475},{"x":0.0666,"y":0.0328,"w":475},
{"x":0.0648,"y":0.0289,"w":475},{"x":0.0662,"y":0.0289,"w":475},{"x":0.064,"y":0.0286,"w":475},{"x":0.067,"y":0.0286,"w":475},{"x":0.0634,"y":0.0289,"w":475},{"x":0.0676,"y":0.0289,"w":475},{"x":0.0627,"y":0.028,"w":475},{"x":0.0683,"y":0.028,"w":475},{"x":0.0619,"y":0.0274,"w":475},{"x":0.0691,"y":0.0274,"w":475},{"x":0.0614,"y":0.0267,"w":475},{"x":0.0696,"y":0.0267,"w":475},{"x":0.0622,"y":0.0263,"w":475},{"x":0.0688,"y":0.0263,"w":475},{"x":0.0629,"y":0.0257,"w":475},{"x":0.0681,"y":0.0257,"w":475},{"x":0.0636,"y":0.0254,"w":475},{"x":0.0674,"y":0.0254,"w":475},{"x":0.0644,"y":0.026,"w":475},{"x":0.0666,"y":0.026,"w":475},{"x":0.0651,"y":0.0265,"w":475},{"x":0.0659,"y":0.0265,"w":475},{"x":0.0655,"y":0.027,"w":475},{"x":0.0646,"y":0.025,"w":475},{"x":0.0664,"y":0.025,"w":475},{"x":0.0639,"y":0.025,"w":475},{"x":0.0671,"y":0.025,"w":475},{"x":0.0634,"y":0.0245,"w":475},{"x":0.0676,"y":0.0245,"w":475},{"x":0.064,"y":0.0239,"w":475},{"x":0.067,"y":0.0239,"w":475},{"x":0.0648,"y":0.0242,"w":475},{"x":0.0662,"y":0.0242,"w":475},{"x":0.0655,"y":0.025,"w":475},{"x":0.0655,"y":0.0235,"w":475},{"x":0.0649,"y":0.023,"w":475},{"x":0.0661,"y":0.023,"w":475},{"x":0.0644,"y":0.0226,"w":475},{"x":0.0666,"y":0.0226,"w":475},{"x":0.0649,"y":0.0224,"w":475},{"x":0.0661,"y":0.0224,"w":475},{"x":0.0655,"y":0.0226,"w":475}
],
"rr":[{"x":0.02223,"y":0.07817,"t":"r"},{"x":0.08783,"y":0.07817,"t":"r"},{"x":0.05503,"y":0.01252,"t":"r"}],
"ss":[{"x":0.02357,"y":0.0779,"t":"rms"},{"x":0.08917,"y":0.0779,"t":"rms"},{"x":0.05637,"y":0.01225,"t":"rms"}],
"vv":[{"x":0.02781,"y":0.07817,"t":"= 4.05 μm"},{"x":0.09341,"y":0.07817,"t":"= 6.38 μm"},{"x":0.06061,"y":0.01252,"t":"= 8.00 μm"}]},
"resolve":{"axis":{"x":"independent","y":"independent"}},
"layer":[
{"data":{"name":"spots"},"mark":{"type":"circle","size":10,"opacity":1},
"encoding":{
"x":{"field":"x","type":"quantitative","scale":{"domain":[0.0002,0.13087],"nice":false,"zero":false},"axis":{"values":[0.02,0.04,0.06,0.08,0.1,0.12],"format":"~g","labelPadding":14,"title":"mm","titleAngle":0,"titleX":577,"titleY":14,"titleAlign":"center","titleBaseline":"middle"}},
"y":{"field":"y","type":"quantitative","scale":{"domain":[0.0075,0.11704],"nice":false,"zero":false},"axis":{"values":[0.01,0.02,0.03,0.04,0.05,0.06,0.07,0.08,0.09,0.1,0.11],"format":"~g","labelPadding":12,"title":"mm","titleAngle":0,"titleX":-34,"titleY":1,"titleAlign":"center","titleBaseline":"middle"}},
"color":{"field":"w","type":"quantitative","scale":{"domain":[450,475,525,550,575,625,650],"range":["#000080","#0000ff","#00ffff","#80ff80","#ffff00","#ff0000","#800000"],"interpolate":"rgb"},
"legend":{"orient":"none","legendX":610,"legendY":10,"type":"gradient","title":"nm","titleFontSize":12,"titleFontWeight":"normal","titleFont":"DejaVu Sans","titleColor":"#111","titlePadding":18,"titleAnchor":"middle","gradientLength":447,"gradientThickness":19,"gradientStrokeColor":"#777","gradientStrokeWidth":1,"values":[460,480,500,520,540,560,580,600,620,640],"labelFontSize":13,"labelFont":"DejaVu Sans","labelColor":"#111","labelOffset":9,"labelOverlap":false}}}},
{"data":{"name":"rr"},"mark":{"type":"text","align":"left","baseline":"middle","fontSize":14,"fontStyle":"italic","font":"DejaVu Serif","color":"#111"},
"encoding":{"text":{"field":"t"},
"x":{"field":"x","type":"quantitative","scale":{"domain":[0.0002,0.13087],"nice":false,"zero":false},"axis":{"orient":"top","values":[0.02,0.04,0.06,0.08,0.1,0.12],"labels":false,"domain":true,"title":"Time=6.6713E-10 s","titleFontSize":12,"titleX":-28,"titleY":-14,"titleAlign":"left","titleBaseline":"middle","titleAngle":0}},
"y":{"field":"y","type":"quantitative","scale":{"domain":[0.0075,0.11704],"nice":false,"zero":false},"axis":{"orient":"right","values":[0.01,0.02,0.03,0.04,0.05,0.06,0.07,0.08,0.09,0.1,0.11],"labels":false,"title":null}}}},
{"data":{"name":"ss"},"mark":{"type":"text","align":"left","baseline":"middle","fontSize":9,"color":"#111"},
"encoding":{"text":{"field":"t"},"x":{"field":"x","type":"quantitative","axis":null,"scale":{"domain":[0.0002,0.13087],"nice":false,"zero":false}},"y":{"field":"y","type":"quantitative","axis":null,"scale":{"domain":[0.0075,0.11704],"nice":false,"zero":false}}}},
{"data":{"name":"vv"},"mark":{"type":"text","align":"left","baseline":"middle","fontSize":13,"color":"#111"},
"encoding":{"text":{"field":"t"},"x":{"field":"x","type":"quantitative","axis":null,"scale":{"domain":[0.0002,0.13087],"nice":false,"zero":false}},"y":{"field":"y","type":"quantitative","axis":null,"scale":{"domain":[0.0075,0.11704],"nice":false,"zero":false}}}}
]}
